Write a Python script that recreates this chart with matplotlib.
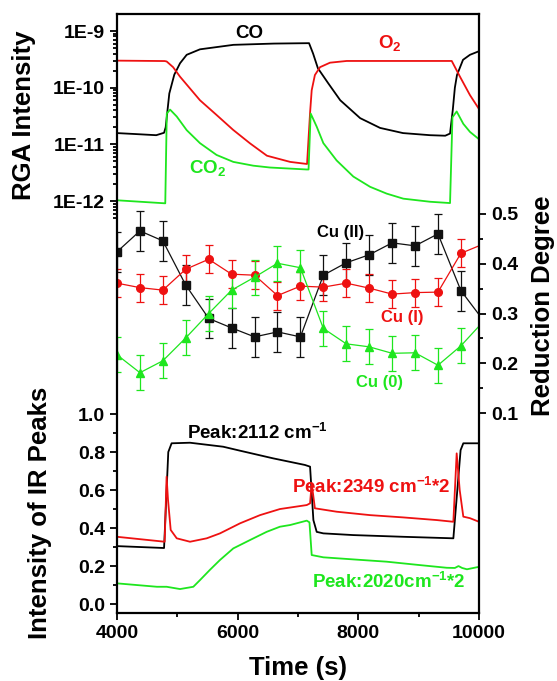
import matplotlib
matplotlib.use("Agg")
import matplotlib.pyplot as plt
from matplotlib.ticker import FixedLocator, NullLocator, NullFormatter

plt.rcParams['font.family'] = ['Liberation Sans', 'DejaVu Sans']
plt.rcParams['font.weight'] = 'bold'
plt.rcParams['mathtext.fontset'] = 'custom'
plt.rcParams['mathtext.rm'] = 'Liberation Sans:bold'
plt.rcParams['mathtext.it'] = 'Liberation Sans:bold'
plt.rcParams['mathtext.bf'] = 'Liberation Sans:bold'
plt.rcParams['mathtext.default'] = 'rm'

BLACK = '#000000'
RED = '#ee1111'
GREEN = '#1ee61e'

# ---------------- top panel: RGA intensity (log) ----------------
co_t = [4000, 4300, 4650, 4780, 4807, 4867, 4950, 5045, 5155, 5375, 5930, 6600, 7183,
        7250, 7330, 7500, 7700, 8030, 8360, 8740, 9190, 9440, 9520, 9565, 9600, 9635,
        9735, 9850, 10000]
co_v = [1.58e-11, 1.52e-11, 1.45e-11, 1.6e-11, 2.0e-11, 7.9e-11, 1.7e-10, 2.7e-10, 3.8e-10,
        4.75e-10, 5.7e-10, 6.0e-10, 6.1e-10, 4.0e-10, 2.2e-10, 1.2e-10, 6.0e-11, 2.9e-11,
        1.95e-11, 1.58e-11, 1.45e-11, 1.42e-11, 1.55e-11, 4e-11, 1.0e-10, 1.67e-10,
        3.1e-10, 3.8e-10, 4.4e-10]

o2_t = [4000, 4790, 4823, 4930, 5045, 5375, 5650, 5925, 6205, 6485, 6870, 7150, 7200,
        7227, 7280, 7365, 7530, 7807, 9548, 9685, 9850, 10000]
o2_v = [3.0e-10, 2.95e-10, 2.9e-10, 2.3e-10, 1.56e-10, 6.0e-11, 3.3e-11, 1.8e-11,
        1.04e-11, 6.3e-12, 4.9e-12, 4.5e-12, 3.6e-11, 9e-11, 1.67e-10, 2.3e-10, 2.76e-10,
        2.96e-10, 2.96e-10, 1.56e-10, 7.4e-11, 4.2e-11]

co2_t = [4000, 4800, 4825, 4880, 4990, 5155, 5375, 5650, 5928, 6260, 6535, 7145, 7175,
         7210, 7310, 7420, 7640, 7917, 8195, 8470, 8745, 9190, 9520, 9560, 9630, 9740,
         9850, 10000]
co2_v = [1.03e-12, 9.1e-13, 3.5e-11, 4.1e-11, 3.1e-11, 1.78e-11, 1.05e-11, 6.5e-12,
         4.9e-12, 4.2e-12, 3.9e-12, 3.6e-12, 3.6e-12, 3.5e-11, 2.05e-11, 1.05e-11, 5.2e-12,
         2.7e-12, 1.78e-12, 1.35e-12, 1.1e-12, 9.7e-13, 9.2e-13, 3e-11, 3.8e-11, 2.3e-11,
         1.66e-11, 1.23e-11]

# ---------------- middle panel: reduction degree ----------------
mid_t = [4000, 4380, 4760, 5140, 5520, 5900, 6280, 6660, 7040, 7420, 7800, 8180, 8560,
         8940, 9320, 9700, 10080]
cu2 = [0.424, 0.466, 0.446, 0.357, 0.290, 0.271, 0.253, 0.263, 0.253, 0.377, 0.402, 0.418,
       0.442, 0.436, 0.460, 0.346, 0.285]
cu1 = [0.361, 0.352, 0.347, 0.389, 0.409, 0.379, 0.377, 0.336, 0.355, 0.353, 0.361, 0.351,
       0.339, 0.342, 0.343, 0.421, 0.440]
cu0 = [0.217, 0.181, 0.205, 0.251, 0.300, 0.347, 0.373, 0.401, 0.392, 0.270, 0.239, 0.233,
       0.220, 0.221, 0.196, 0.235, 0.285]
cu2_err = [0.04] * 17
cu1_err = [0.028] * 17
cu0_err = [0.035] * 17

# ---------------- bottom panel: IR peak intensities ----------------
b_t = [4000, 4780, 4850, 4905, 5210, 5760, 6040, 6585, 7115, 7200, 7255, 7310, 7420, 7917,
       8745, 9575, 9695, 9740, 10000]
b_v = [0.305, 0.295, 0.80, 0.846, 0.849, 0.828, 0.807, 0.767, 0.732, 0.723, 0.442, 0.38,
       0.372, 0.363, 0.354, 0.346, 0.81, 0.846, 0.846]

r_t = [4000, 4790, 4822, 4845, 4890, 4990, 5210, 5487, 5707, 6040, 6370, 6700, 7145, 7200,
       7227, 7280, 7640, 8195, 8745, 9300, 9575, 9630, 9680, 9740, 9850, 10000]
r_v = [0.354, 0.328, 0.67, 0.55, 0.39, 0.346, 0.328, 0.346, 0.372, 0.425, 0.468, 0.50,
       0.521, 0.53, 0.635, 0.504, 0.486, 0.468, 0.456, 0.442, 0.433, 0.793, 0.60, 0.46,
       0.452, 0.433]

g_t = [4000, 4663, 4823, 5045, 5265, 5375, 5540, 5707, 5928, 6205, 6480, 6700, 6870, 7145,
       7190, 7227, 7420, 7917, 8470, 9022, 9465, 9600, 9660, 9720, 9800, 10000]
g_v = [0.109, 0.091, 0.091, 0.079, 0.091, 0.126, 0.18, 0.232, 0.293, 0.337, 0.38, 0.407,
       0.416, 0.439, 0.43, 0.258, 0.246, 0.235, 0.223, 0.205, 0.191, 0.19, 0.2, 0.19, 0.183,
       0.196]

x_ticks = [4000, 6000, 8000, 10000]
x_minor = [5000, 7000, 9000]
log_ticks = [1e-12, 1e-11, 1e-10, 1e-9]
log_labels = ['1E-12', '1E-11', '1E-10', '1E-9']
rd_ticks = [0.1, 0.2, 0.3, 0.4, 0.5]
rd_minor = [0.15, 0.25, 0.35, 0.45]
ir_ticks = [0.0, 0.2, 0.4, 0.6, 0.8, 1.0]
ir_minor = [0.1, 0.3, 0.5, 0.7, 0.9]

W, H = 557, 681
fig = plt.figure(figsize=(W / 100, H / 100), dpi=100)
L, R, T, B = 117, 479, 14, 613
rect = [L / W, 1 - B / H, (R - L) / W, (B - T) / H]

ax_log = fig.add_axes(rect)
ax_rd = fig.add_axes(rect, facecolor='none')
ax_ir = fig.add_axes(rect, facecolor='none')

LW = 1.3
TICKW = 1.3
for ax in (ax_log, ax_rd, ax_ir):
    ax.set_xlim(4000, 10000)
    for s in ax.spines.values():
        s.set_visible(False)
    ax.tick_params(which='both', direction='out', width=TICKW, labelsize=14)
    ax.tick_params(which='major', length=5)
    ax.tick_params(which='minor', length=3)

# log axes
ax_log.set_yscale('log')
ax_log.set_ylim(10 ** -19.27, 10 ** -8.7)
ax_log.plot(co_t, co_v, color=BLACK, lw=LW)
ax_log.plot(o2_t, o2_v, color=RED, lw=LW)
ax_log.plot(co2_t, co2_v, color=GREEN, lw=LW)
ax_log.yaxis.set_major_locator(FixedLocator(log_ticks))
ax_log.set_yticklabels(log_labels)
minor_vals = []
for e in (-13, -12, -11, -10):
    for k in range(2, 10):
        v = k * 10.0 ** e
        if v >= 5e-13:
            minor_vals.append(v)
ax_log.yaxis.set_minor_locator(FixedLocator(minor_vals))
ax_log.yaxis.set_minor_formatter(NullFormatter())
ax_log.xaxis.set_major_locator(NullLocator())
ax_log.xaxis.set_minor_locator(NullLocator())

# reduction degree (right)
ax_rd.set_ylim(-0.302, 0.902)
ax_rd.yaxis.tick_right()
ax_rd.yaxis.set_major_locator(FixedLocator(rd_ticks))
ax_rd.yaxis.set_minor_locator(FixedLocator(rd_minor))
ax_rd.set_yticklabels(['%.1f' % v for v in rd_ticks])
ax_rd.xaxis.set_major_locator(NullLocator())
ax_rd.xaxis.set_minor_locator(NullLocator())
ek = dict(lw=0.9, elinewidth=0.9, capsize=3, capthick=0.9, markersize=5.5)
ax_rd.errorbar(mid_t, cu2, yerr=cu2_err, fmt='-s', color='#111111', **ek)
ax_rd.errorbar(mid_t, cu1, yerr=cu1_err, fmt='-o', color=RED, **ek)
ax_rd.errorbar(mid_t, cu0, yerr=cu0_err, fmt='-^', color=GREEN, **ek)

# IR intensities (left, bottom)
ax_ir.set_ylim(-0.047, 3.105)
ax_ir.plot(b_t, b_v, color=BLACK, lw=LW)
ax_ir.plot(r_t, r_v, color=RED, lw=LW)
ax_ir.plot(g_t, g_v, color=GREEN, lw=LW)
ax_ir.yaxis.set_major_locator(FixedLocator(ir_ticks))
ax_ir.yaxis.set_minor_locator(FixedLocator(ir_minor))
ax_ir.set_yticklabels(['%.1f' % v for v in ir_ticks])
ax_ir.xaxis.set_major_locator(FixedLocator(x_ticks))
ax_ir.xaxis.set_minor_locator(FixedLocator(x_minor))
ax_ir.set_xticklabels([str(v) for v in x_ticks])
for s in ax_ir.spines.values():
    s.set_visible(True)
    s.set_linewidth(1.6)


def ft(px, py, s, color=BLACK, size=13, rot=0, ha='center'):
    fig.text(px / W, 1 - py / H, s, color=color, fontsize=size, rotation=rot,
             ha=ha, va='center', fontweight='bold')


ft(249, 33, 'CO', size=13.5)
ft(390, 43, 'O$_2$', color=RED, size=13.5)
ft(208, 168, 'CO$_2$', color=GREEN, size=13.5)

ft(341, 232, 'Cu (II)', size=12)
ft(402, 317, 'Cu (I)', color=RED, size=12)
ft(380, 383, 'Cu (0)', color=GREEN, size=12)

ft(257, 433, 'Peak:2112 cm$^{-1}$', size=13.5)
ft(371, 487, 'Peak:2349 cm$^{-1}$*2', color=RED, size=13.5)
ft(389, 582, 'Peak:2020cm$^{-1}$*2', color=GREEN, size=13.5)

ft(24, 115, 'RGA Intensity', size=18.5, rot=90)
ft(40, 513, 'Intensity of IR Peaks', size=18.5, rot=90)
ft(543, 306, 'Reduction Degree', size=18.5, rot=90)
ft(298, 668, 'Time (s)', size=18.5)

fig.savefig('out.png', dpi=100)
